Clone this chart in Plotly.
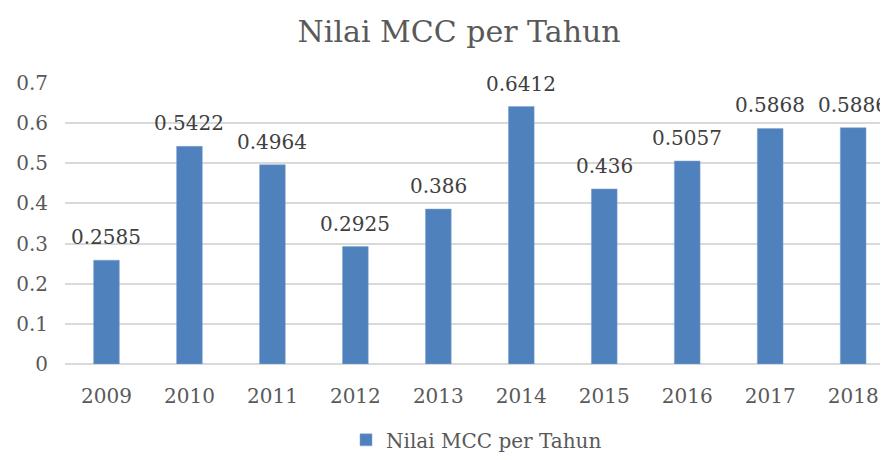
import plotly.graph_objects as go

years = ["2009", "2010", "2011", "2012", "2013", "2014", "2015", "2016", "2017", "2018"]
mcc = [0.2585, 0.5422, 0.4964, 0.2925, 0.386, 0.6412, 0.436, 0.5057, 0.5868, 0.5886]
labels = ["0.2585", "0.5422", "0.4964", "0.2925", "0.386", "0.6412", "0.436", "0.5057", "0.5868", "0.5886"]
series_name = "Nilai MCC per Tahun"
y_ticks = [0, 0.1, 0.2, 0.3, 0.4, 0.5, 0.6, 0.7]
y_tick_text = ["0", "0.1", "0.2", "0.3", "0.4", "0.5", "0.6", "0.7"]

FONT = "DejaVu Serif"
fig = go.Figure()
fig.add_trace(go.Bar(x=list(range(len(years))), y=mcc, name=series_name,
                     marker=dict(color="#4F81BD", line=dict(color="#7FA3D3", width=0.5)),
                     width=0.31, showlegend=True))
for i, (v, t) in enumerate(zip(mcc, labels)):
    fig.add_annotation(x=i, y=v, text=t, showarrow=False, yanchor="bottom", yshift=9,
                       font=dict(family=FONT, size=20, color="#404040"))

fig.update_layout(
    width=888, height=460,
    paper_bgcolor="white", plot_bgcolor="white",
    margin=dict(l=55, r=8, t=75, b=102),
    title=dict(text="Nilai MCC per Tahun", x=0.508, xanchor="center", y=0.948, yanchor="middle",
               font=dict(family=FONT, size=30, color="#595959")),
    font=dict(family=FONT, color="#595959"),
    legend=dict(orientation="h", x=0.5, xanchor="center", y=-0.27, yanchor="middle",
                font=dict(family=FONT, size=20, color="#595959"), itemwidth=30),
    bargap=0.7,
)
fig.update_xaxes(range=[-0.5, 9.42], tickvals=list(range(len(years))), ticktext=years,
                 showgrid=False, showline=False, ticks="", ticklabelstandoff=18,
                 tickfont=dict(family=FONT, size=20, color="#595959"))
fig.update_yaxes(range=[0, 0.7], tickvals=y_ticks, ticktext=y_tick_text,
                 showgrid=True, gridcolor="#D9D9D9", gridwidth=1.5, zeroline=True, zerolinecolor="#D9D9D9",
                 zerolinewidth=1.5, showline=False, ticks="", ticklabelstandoff=16,
                 tickfont=dict(family=FONT, size=20, color="#595959"))

fig.write_html("out.html")
